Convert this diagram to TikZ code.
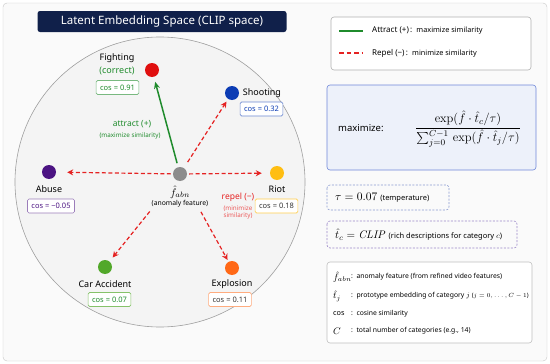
\RequirePackage{fix-cm}
\documentclass[tikz,border=0pt]{standalone}
\usepackage{amsmath}
\usepackage[no-math]{fontspec}
\setmainfont{Noto Sans}
\usetikzlibrary{arrows.meta}
\definecolor{navy}{HTML}{10204A}
\definecolor{cardbg}{HTML}{FAFAFA}
\definecolor{cred}{HTML}{E00F0F}
\definecolor{cblue}{HTML}{0C3CB4}
\definecolor{cpurple}{HTML}{4B1382}
\definecolor{cyellow}{HTML}{FFBE12}
\definecolor{cgreen}{HTML}{52A82A}
\definecolor{corange}{HTML}{FF6816}
\definecolor{agreen}{HTML}{1F8B2C}
\definecolor{rred}{HTML}{E52222}
\definecolor{formbg}{HTML}{EDF1FA}
\definecolor{formedge}{HTML}{7088D8}
\definecolor{tauedge}{HTML}{8A9AD0}
\definecolor{clipedge}{HTML}{9A86C8}
\newcommand{\fsz}[1]{\fontsize{#1}{#1}\selectfont}

\begin{document}
\begin{tikzpicture}[x=1pt,y=-1pt,
  catdot/.style={circle,inner sep=0pt,minimum size=14pt},
  cosbox/.style={draw=#1,fill=white,rounded corners=1.5pt,line width=0.6pt,inner xsep=4pt,minimum height=14pt,font=\fsz{7.5}},
  lbl/.style={inner sep=0pt,font=\fsz{9}},
  attract/.style={-{Stealth[length=7pt,width=6pt]},agreen,line width=1.5pt},
  repel/.style={-{Stealth[length=6pt,width=6pt]},rred,line width=1.2pt,dash pattern=on 4pt off 2.5pt},
  panel/.style={rounded corners=3pt,line width=0.6pt}]
\useasboundingbox (0,0) rectangle (550,364);
\draw[gray!45,fill=cardbg,rounded corners=4pt] (3,3) rectangle (547,361);
\node[fill=navy,rounded corners=2.5pt,minimum width=249pt,minimum height=21pt,text=white,font=\fsz{11.5}] (title) at (162,21.5) {Latent Embedding Space (CLIP space)};
\draw[gray!75,fill=gray!9,line width=0.6pt] (160,182) circle (145);
% categories
\foreach \n/\x/\y/\c in {feat/180/174/gray!90,fight/152/70/cred,shoot/232/93/cblue,abuse/49/172/cpurple,riot/277/173/cyellow,car/105/267/cgreen,expl/232/268/corange}
  \node[catdot,fill=\c] (\n) at (\x,\y) {};
\foreach \n/\x/\y/\t in {fight/117/58/Fighting,shoot/262/93/Shooting,abuse/49/189/Abuse,riot/277/189/Riot,car/105/284/Car Accident,expl/232/284/Explosion}
  \node[lbl] (lb\n) at (\x,\y) {\t};
\node[lbl,text=agreen] (correct) at (117,71) {(correct)};
\foreach \n/\x/\y/\e/\t/\v in {fight/117.5/87.5/agreen!60/agreen/0.91,shoot/261.5/109/cblue!60/cblue/0.32,abuse/51/206/cpurple!55/cpurple/−0.05,riot/276.5/206/cyellow!75/black!80/0.18,car/109.5/299.5/cgreen!70/agreen/0.07,expl/230/299.5/corange!55/black!80/0.11}
  \node[cosbox=\e,text=\t] (cos\n) at (\x,\y) {cos = \v};
% anomaly feature
\node[inner sep=0pt,font=\fsz{11}] (flab) at (180,192) {$\hat f_{abn}$};
\node[inner sep=0pt,font=\fsz{6.8}] (fdesc) at (180,204) {(anomaly feature)};
% connectors
\draw[attract,shorten <=4pt,shorten >=5pt] (feat) -- (fight);
\draw[repel,shorten <=7pt,shorten >=3pt] (feat) -- (shoot);
\draw[repel,shorten <=2pt,shorten >=11pt] (feat) -- (abuse);
\draw[repel,shorten <=2pt,shorten >=8pt] (feat) -- (riot);
\draw[repel,shorten <=41pt,shorten >=5pt] (feat) -- (car);
\draw[repel,shorten <=36pt,shorten >=2pt] (feat) -- (expl);
\node[inner sep=0pt,font=\fsz{8.5},text=agreen] (attr) at (132,124) {attract (+)};
\node[inner sep=0pt,font=\fsz{6.3},text=agreen] (attrdesc) at (130,136) {(maximize similarity)};
\node[inner sep=0pt,font=\fsz{8.5},text=rred] (rep) at (238,197) {repel (−)};
\node[inner sep=0pt,font=\fsz{6.3},text=rred!75,align=center] (repdesc) at (238,212.5) {(minimize\\[1.5pt]similarity)};
% legend
\draw[panel,gray!60,fill=white] (331,17) rectangle (531,70);
\coordinate (ga) at (339,31); \coordinate (gb) at (363,31);
\coordinate (ra) at (339,53); \coordinate (rb) at (363,53);
\draw[agreen,line width=1.5pt] (ga) -- (gb);
\draw[rred,line width=1.5pt,dash pattern=on 4.5pt off 3pt] (ra) -- (rb);
\node[anchor=west,inner sep=0pt,font=\fsz{8}] (legatt) at (372,31) {Attract (+)\,:\, {\fsz{7.3}maximize similarity}};
\node[anchor=west,inner sep=0pt,font=\fsz{8}] (legrep) at (372,53) {Repel (−)\,:\, {\fsz{7.3}minimize similarity}};
% objective
\draw[panel,formedge,fill=formbg] (327,85) rectangle (536,170);
\node[anchor=west,inner sep=0pt,font=\fsz{9.5}\bfseries] (maxlab) at (338,128) {maximize:};
\node[inner sep=0pt,font=\fsz{12.5}] (form) at (468,129) {$\displaystyle\frac{\exp(\hat f\cdot\hat t_c/\tau)}{\sum_{j=0}^{C-1}\,\exp(\hat f\cdot\hat t_j/\tau)}$};
% parameters
\draw[panel,tauedge,dash pattern=on 2pt off 1.5pt] (327,185) rectangle (449,210);
\node[anchor=west,inner sep=0pt,font=\fsz{11.5}] (tau) at (335,197.5) {$\tau = 0.07$ {\fsz{7.5}(temperature)}};
\draw[panel,clipedge,dash pattern=on 2pt off 1.5pt] (327,221) rectangle (517,248);
\node[anchor=west,inner sep=0pt,font=\fsz{11}] (clip) at (335,234.5) {$\hat t_c = \mathit{CLIP}$ {\fsz{7.5}(rich descriptions for category $c$)}};
% notation
\draw[panel,gray!50,fill=white] (327,262) rectangle (532,343);
\foreach \i/\y/\s/\d in {1/277/{$\hat f_{abn}$}/{anomaly feature (from refined video features)},2/296/{$\hat t_j$}/{prototype embedding of category $j$ {\fsz{6}($j=0,\ldots,C-1$)}},3/314/{\fsz{7.3}cos}/{cosine similarity},4/331/{$C$}/{total number of categories (e.g., 14)}}{
  \node[anchor=west,inner sep=0pt,font=\fsz{9.5}] (sym\i) at (333,\y) {\s};
  \node[anchor=west,inner sep=0pt,font=\fsz{6.8}] (def\i) at (351,\y) {:\, \d};}
\end{tikzpicture}
\end{document}
